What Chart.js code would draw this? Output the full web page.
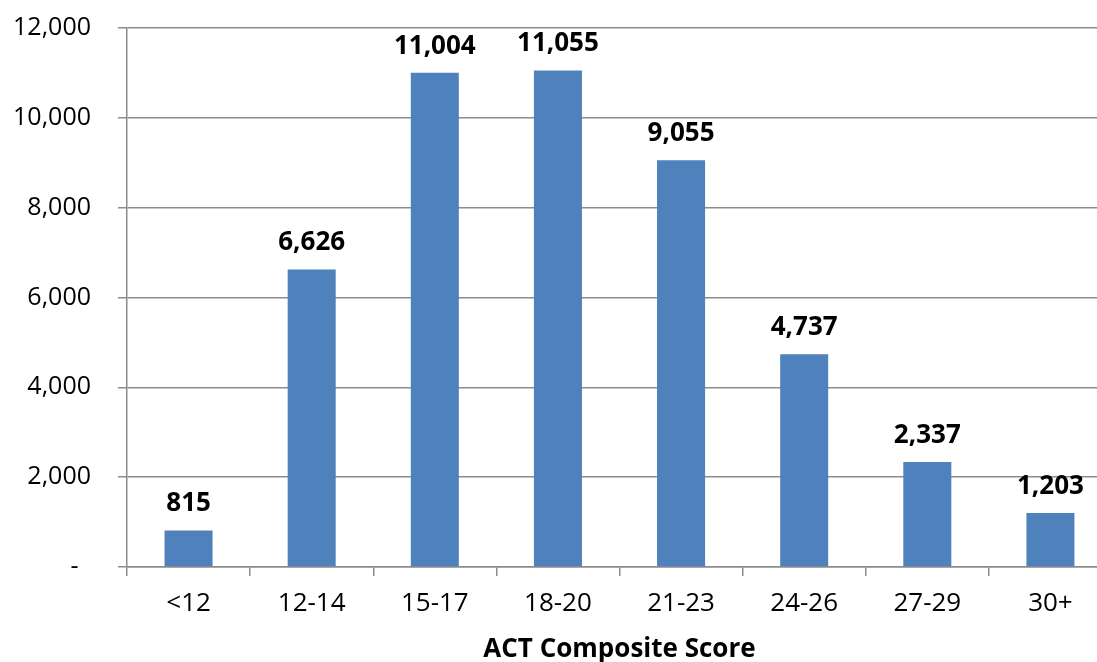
<!DOCTYPE html>
<html>
<head>
<meta charset="utf-8">
<script src="https://cdn.jsdelivr.net/npm/chart.js@4"></script>
<style>
  html, body { margin: 0; padding: 0; overflow: hidden; background: #fff; }
</style>
</head>
<body>
<canvas id="act" width="1112" height="662"></canvas>
<script>
// ACT composite score distribution
const scoreBands = ['<12', '12-14', '15-17', '18-20', '21-23', '24-26', '27-29', '30+'];
const studentCounts = [815, 6626, 11004, 11055, 9055, 4737, 2337, 1203];
const yTicks = [0, 2000, 4000, 6000, 8000, 10000, 12000];

const fontFamily = "'Open Sans', sans-serif";
const gridColor = '#8c8c8c';

const fmt = v => v === 0 ? '-' : v.toLocaleString('en-US');

const valueLabels = {
    id: 'valueLabels',
    afterDatasetsDraw(chart) {
        const ctx = chart.ctx;
        const meta = chart.getDatasetMeta(0);
        ctx.save();
        ctx.font = 'bold 26px ' + fontFamily;
        ctx.fillStyle = '#000';
        ctx.textAlign = 'center';
        ctx.textBaseline = 'alphabetic';
        meta.data.forEach((bar, i) => {
            ctx.fillText(fmt(studentCounts[i]), bar.x, bar.y - 19);
        });
        ctx.restore();
    }
};

const ctx = document.querySelector('#act');
const actChart = new Chart(ctx, {
    type: 'bar',
    data: {
        labels: scoreBands,
        datasets: [{
            data: studentCounts,
            backgroundColor: '#4f81bd',
            borderWidth: 0,
            barPercentage: 0.39,
            categoryPercentage: 1
        }]
    },
    options: {
        responsive: false,
        devicePixelRatio: 1,
        animation: false,
        layout: { padding: { top: 28, left: 0, right: 0, bottom: 0 } },
        plugins: {
            legend: { display: false },
            tooltip: { enabled: false }
        },
        scales: {
            x: {
                afterFit(scale) { scale.height = 95; },
                grid: {
                    drawOnChartArea: false,
                    drawTicks: true,
                    offset: true,
                    tickLength: 9,
                    color: gridColor,
                    lineWidth: 1.5
                },
                border: { color: gridColor, width: 1.5 },
                ticks: {
                    color: '#000',
                    padding: 12,
                    font: { family: fontFamily, size: 26 }
                },
                title: {
                    display: true,
                    text: 'ACT Composite Score',
                    color: '#000',
                    padding: { top: 0, bottom: -3 },
                    font: { family: fontFamily, size: 26, weight: 'bold' }
                }
            },
            y: {
                min: 0,
                max: 12000,
                afterFit(scale) {
                    scale.width = 127;
                    scale.paddingTop = 0;
                    scale.paddingBottom = 0;
                },
                afterBuildTicks(scale) {
                    scale.ticks = yTicks.map(v => ({ value: v }));
                },
                grid: {
                    color: gridColor,
                    lineWidth: 1.5,
                    tickLength: 9
                },
                border: { color: gridColor, width: 1.5 },
                ticks: {
                    color: '#000',
                    padding: 27,
                    font: { family: fontFamily, size: 25 },
                    // accounting style: zero shown as a dash, set in from the right
                    callback: v => v === 0 ? '-\u2002' : fmt(v)
                }
            }
        }
    },
    plugins: [valueLabels]
});
</script>
</body>
</html>
